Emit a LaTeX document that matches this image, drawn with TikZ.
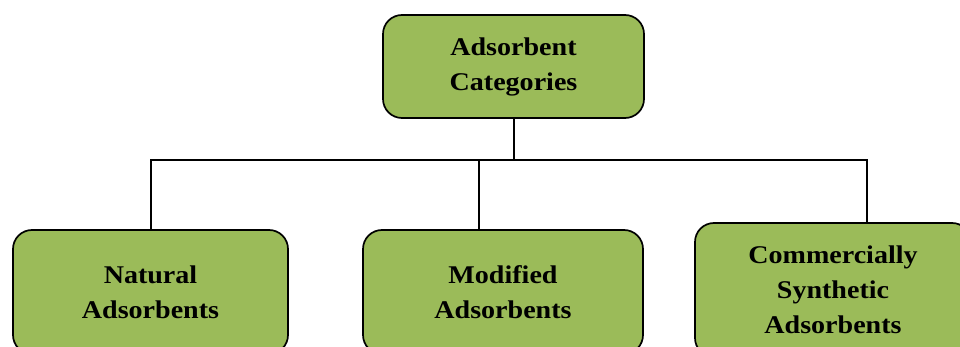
\documentclass[tikz,border=0pt]{standalone}
\usepackage{fontspec}
\setmainfont[FakeStretch=1.1]{Liberation Serif}
\definecolor{boxgreen}{RGB}{155,187,89}
\tikzset{
  catbox/.style={draw=black, line width=1.7pt, fill=boxgreen, rounded corners=19pt,
    align=center, inner sep=0pt,
    font=\fontsize{25.5}{35}\selectfont\bfseries},
  link/.style={draw=black, line width=1.7pt}
}
\begin{document}
\begin{tikzpicture}[x=1pt,y=-1pt]
\useasboundingbox (0,0) rectangle (960,347);
\clip (0,0) rectangle (960,347);
% top category box and the three branches
\node[catbox, minimum width=261pt, minimum height=103pt] (top) at (513.5,66.5) {Adsorbent\\Categories};
\node[catbox, minimum width=275pt, minimum height=124pt] (nat) at (150.5,292) {Natural\\Adsorbents};
\node[catbox, minimum width=280pt, minimum height=124pt] (mod) at (503,292) {Modified\\Adsorbents};
\node[catbox, minimum width=276pt, minimum height=134pt] (com) at (833,290) {Commercially\\Synthetic\\Adsorbents};
% horizontal bus joining the branches
\coordinate (bus) at (514,160);
\coordinate (busL) at (151,160);
\coordinate (busM) at (479,160);
\coordinate (busR) at (867,160);
\draw[link] (top.south -| bus) -- (bus);
\draw[link] (busL |- nat.north) -- (busL) -- (busR) -- (busR |- com.north);
\draw[link] (busM) -- (busM |- mod.north);
\end{tikzpicture}
\end{document}
